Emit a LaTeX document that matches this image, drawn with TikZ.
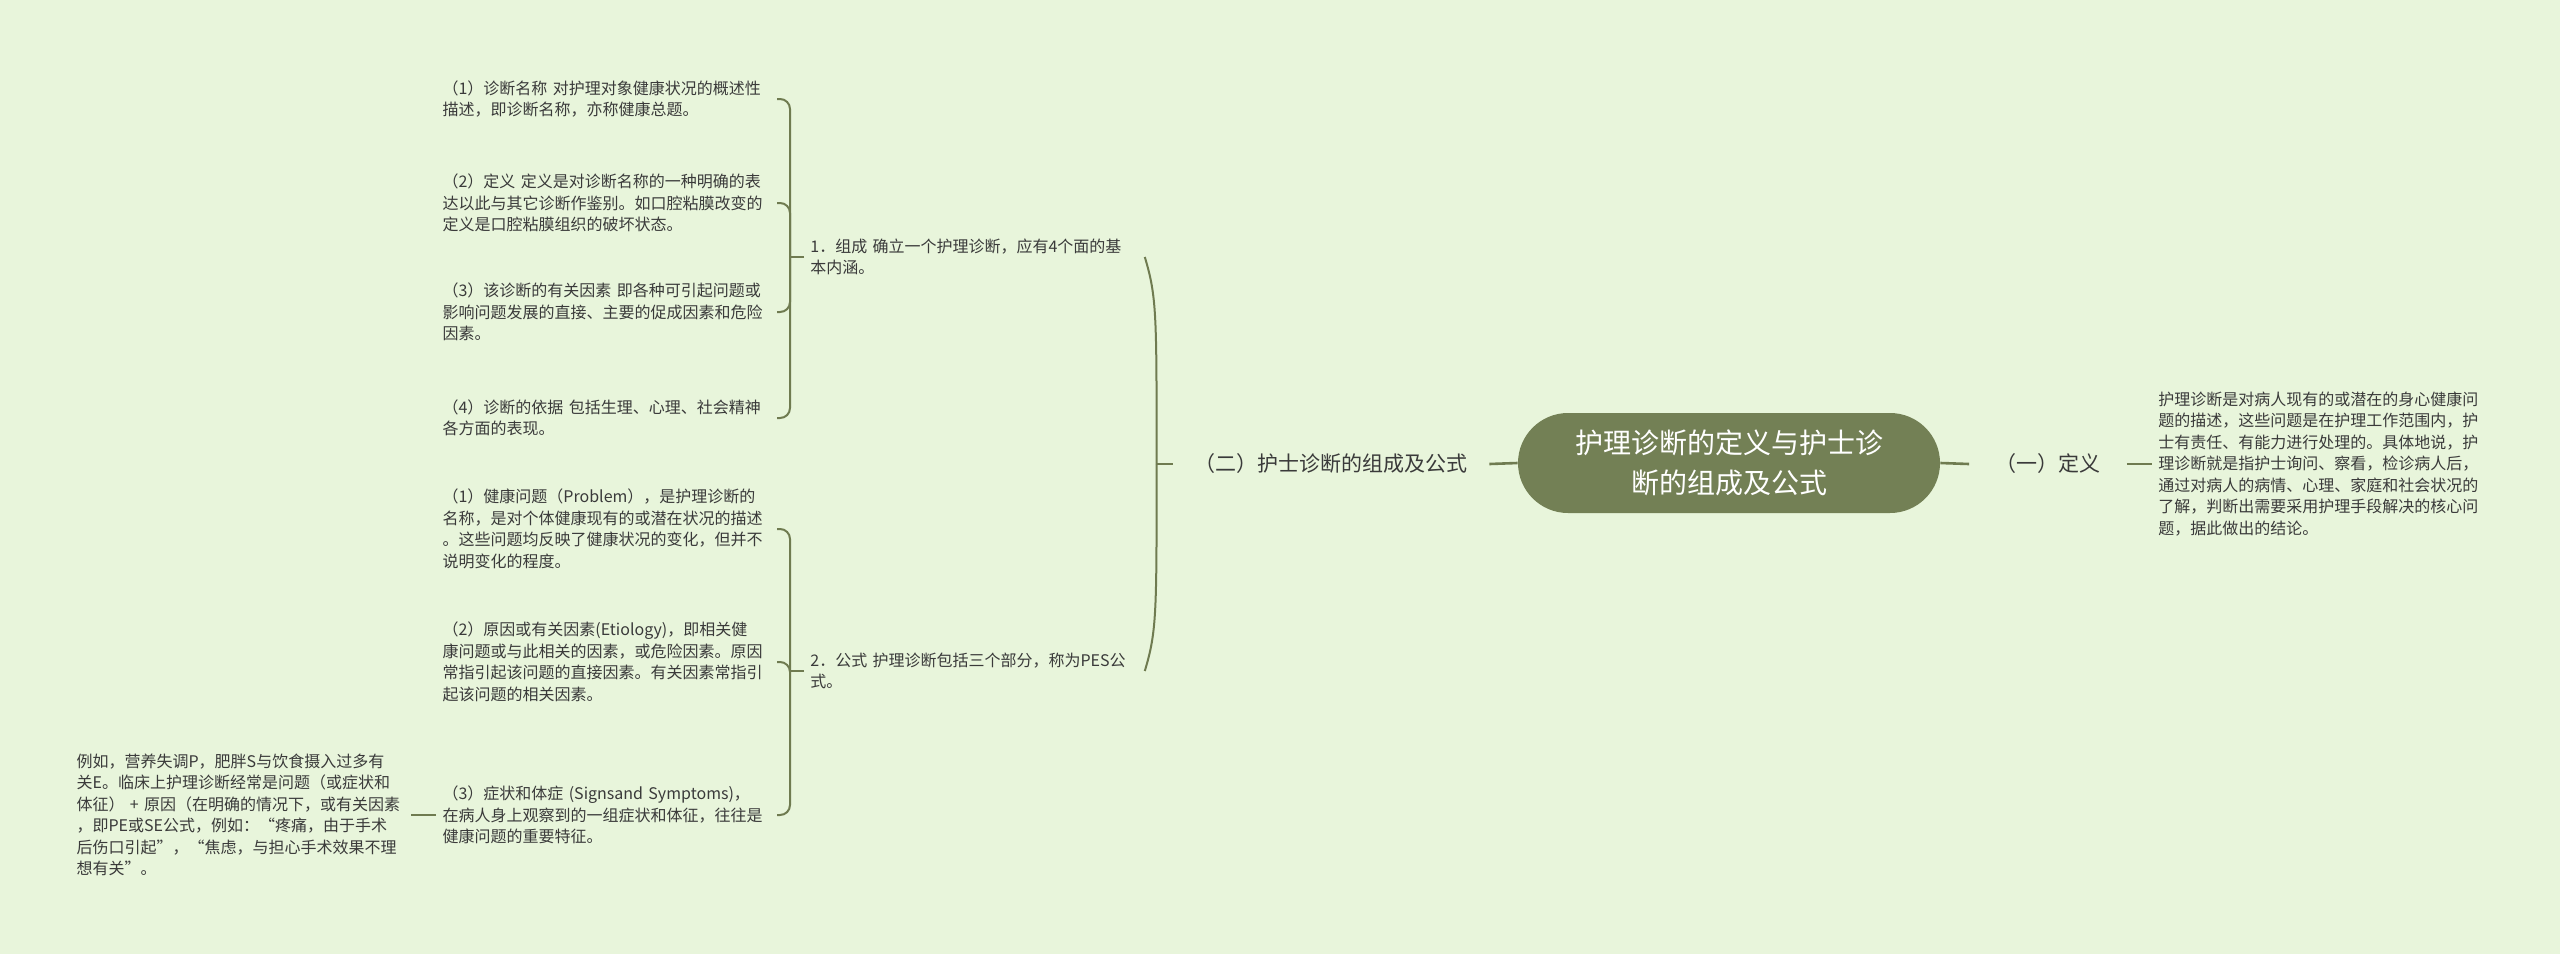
\documentclass[tikz,border=0pt]{standalone}
\usepackage{fontspec}
\newfontfamily\cjk{Noto Sans CJK SC}
\begin{document}
\begin{tikzpicture}[x=0.5pt, y=-0.5pt,
  rootbox/.style={fill=rootcol, text=white, rounded corners=25pt, minimum width=211pt, minimum height=50pt, align=center, font=\cjk\fontsize{14}{20}\selectfont},
  midtext/.style={text=txt, inner xsep=3.5pt, font=\cjk\fontsize{10.5}{13}\selectfont},
  leaftext/.style={text=txt, text width=164pt, align=left, inner xsep=3pt, inner ysep=2pt, font=\cjk\fontsize{8}{10.75}\selectfont},
  rootline/.style={draw=linecol, line width=1.3pt},
  branch/.style={draw=linecol, line width=1pt}]
\definecolor{bg}{HTML}{E8F5DB}
\definecolor{rootcol}{HTML}{738055}
\definecolor{linecol}{HTML}{6F7B50}
\definecolor{txt}{HTML}{3A3A3A}
\fill[bg] (0,0) rectangle (2560,954);
\useasboundingbox (0,0) rectangle (2560,954);
% centre and right side
\node[rootbox] (root) at (1729,463) {护理诊断的定义与护士诊\\断的组成及公式};
\node[midtext, inner xsep=13pt] (def1) at (2048,464) {（一）定义};
\node[leaftext, anchor=west] (deftext) at (2152,464) {护理诊断是对病人现有的或潜在的身心健康问\\题的描述，这些问题是在护理工作范围内，护\\士有责任、有能力进行处理的。具体地说，护\\理诊断就是指护士询问、察看，检诊病人后，\\通过对病人的病情、心理、家庭和社会状况的\\了解，判断出需要采用护理手段解决的核心问\\题，据此做出的结论。};
\draw[rootline] (root.east) -- (def1.west);
\draw[rootline] (def1.east) -- (deftext.west);
% left side
\node[midtext, inner xsep=10.75pt] (form2) at (1331,464) {（二）护士诊断的组成及公式};
\draw[rootline] (root.west) -- (form2.east);
\node[leaftext, anchor=west] (c1) at (804,257) {1．组成 确立一个护理诊断，应有4个面的基\\本内涵。};
\node[leaftext, anchor=west] (c2) at (804,671) {2．公式 护理诊断包括三个部分，称为PES公\\式。};
\draw[branch] (form2.west) -- ++(-16,0) coordinate (fj);
\draw[branch] (fj) .. controls +(0,-150) and +(12,40) .. (c1.east);
\draw[branch] (fj) .. controls +(0,150) and +(12,-40) .. (c2.east);
% 1. parts
\node[leaftext, anchor=east] (g1a) at (777,99) {（1）诊断名称 对护理对象健康状况的概述性\\描述，即诊断名称，亦称健康总题。};
\node[leaftext, anchor=east] (g1b) at (777,203) {（2）定义 定义是对诊断名称的一种明确的表\\达以此与其它诊断作鉴别。如口腔粘膜改变的\\定义是口腔粘膜组织的破坏状态。};
\node[leaftext, anchor=east] (g1c) at (777,312) {（3）该诊断的有关因素 即各种可引起问题或\\影响问题发展的直接、主要的促成因素和危险\\因素。};
\node[leaftext, anchor=east] (g1d) at (777,418) {（4）诊断的依据 包括生理、心理、社会精神\\各方面的表现。};
\draw[branch] (c1.west) -- ++(-14,0) coordinate (j1);
\foreach \n in {g1a,g1b,g1c,g1d}
  \draw[branch, rounded corners=5pt] (j1) |- (\n.east);
% 2. formula
\node[leaftext, anchor=east] (g2a) at (777,529) {（1）健康问题（Problem），是护理诊断的\\名称，是对个体健康现有的或潜在状况的描述\\。这些问题均反映了健康状况的变化，但并不\\说明变化的程度。};
\node[leaftext, anchor=east] (g2b) at (777,662) {（2）原因或有关因素(Etiology)，即相关健\\康问题或与此相关的因素，或危险因素。原因\\常指引起该问题的直接因素。有关因素常指引\\起该问题的相关因素。};
\node[leaftext, anchor=east] (g2c) at (777,815) {（3）症状和体症 (Signsand Symptoms)，\\在病人身上观察到的一组症状和体征，往往是\\健康问题的重要特征。};
\draw[branch] (c2.west) -- ++(-14,0) coordinate (j2);
\foreach \n in {g2a,g2b,g2c}
  \draw[branch, rounded corners=5pt] (j2) |- (\n.east);
\node[leaftext, anchor=east] (ex) at (411,815) {例如，营养失调P，肥胖S与饮食摄入过多有\\关E。临床上护理诊断经常是问题（或症状和\\体征） + 原因（在明确的情况下，或有关因素\\，即PE或SE公式，例如：“疼痛，由于手术\\后伤口引起”，“焦虑，与担心手术效果不理\\想有关”。};
\draw[branch] (g2c.west) -- (ex.east);
\end{tikzpicture}
\end{document}
